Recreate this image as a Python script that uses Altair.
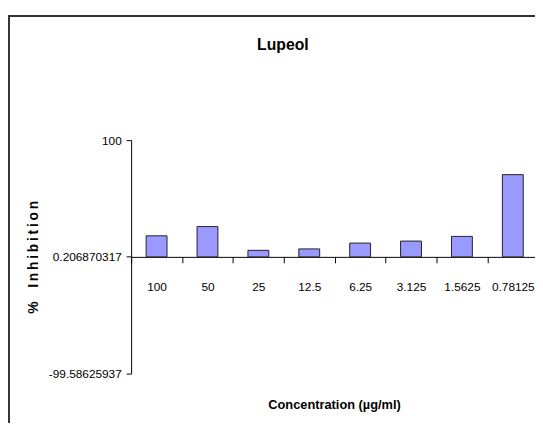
import altair as alt
import pandas as pd

concentrations = ["100", "50", "25", "12.5", "6.25", "3.125", "1.5625", "0.78125"]
inhibition = [18.2, 26.1, 5.8, 7.0, 12.0, 13.7, 17.7, 70.5]
y_ticks = [-99.58625937, 0.206870317, 100]
axis_cross = 0.206870317
chart_title = "Lupeol"

df = pd.DataFrame({"conc": concentrations, "val": inhibition})
df["base"] = axis_cross

W, H = 410, 237
BAND_RANGE = 413.3
ymin, ymax = y_ticks[0], y_ticks[-1]
x_offset = -H * (axis_cross - ymin) / (ymax - ymin)

FONT = "Liberation Sans"

x_enc = alt.X(
    "conc:N",
    sort=concentrations,
    scale=alt.Scale(range=[0, BAND_RANGE], paddingInner=0, paddingOuter=0),
    axis=alt.Axis(
        title="Concentration (µg/ml)",
        labelAngle=0,
        tickBand="extent",
        offset=x_offset,
        tickSize=6,
        labelPadding=19,
        labelFont=FONT,
        labelFontSize=12,
        labelColor="#000",
        domainColor="#000",
        tickColor="#000",
        titleFont=FONT,
        titleFontSize=13,
        titleFontWeight="bold",
        titleColor="#000",
        titleX=206,
        titleY=150,
        titleAlign="center",
        titleBaseline="middle",
    ),
)

y_enc = alt.Y(
    "val:Q",
    scale=alt.Scale(domain=[ymin, ymax], nice=False, zero=False),
    axis=alt.Axis(
        title="%\u2003" + "\u2009".join("Inhibition"),
        values=y_ticks,
        labelExpr="datum.value",
        grid=False,
        tickSize=5,
        labelPadding=5,
        labelFont=FONT,
        labelFontSize=12,
        labelColor="#000",
        domainColor="#000",
        tickColor="#000",
        titleFont=FONT,
        titleFontSize=14,
        titleFontWeight="bold",
        titleColor="#000",
        titleAngle=270,
        titleX=-99,
        titleY=118.5,
        titleAlign="center",
        titleBaseline="middle",
    ),
)

bars = alt.Chart(df).mark_bar(
    width=alt.RelativeBandSize(0.41), color="#9999FF", stroke="#222", strokeWidth=1
).encode(x=x_enc, y=y_enc, y2="base:Q")

frame = alt.Chart(pd.DataFrame({"a": [0]})).mark_rect(
    fill=None, stroke="#333", strokeWidth=2
).encode(
    x=alt.value(-124), x2=alt.value(430), y=alt.value(-126), y2=alt.value(320)
)

title = alt.Chart(pd.DataFrame({"t": [chart_title]})).mark_text(
    font=FONT, fontSize=16, fontWeight="bold", color="#000",
    align="center", baseline="alphabetic",
).encode(text="t:N", x=alt.value(154), y=alt.value(-92))

chart = alt.layer(frame, bars, title).properties(
    width=W,
    height=H,
    autosize=alt.AutoSizeParams(type="none"),
    padding={"left": 125, "top": 131, "right": 0, "bottom": 47},
).configure_view(stroke=None)

chart.save("out.html", embed_options={"renderer": "svg", "actions": False})
